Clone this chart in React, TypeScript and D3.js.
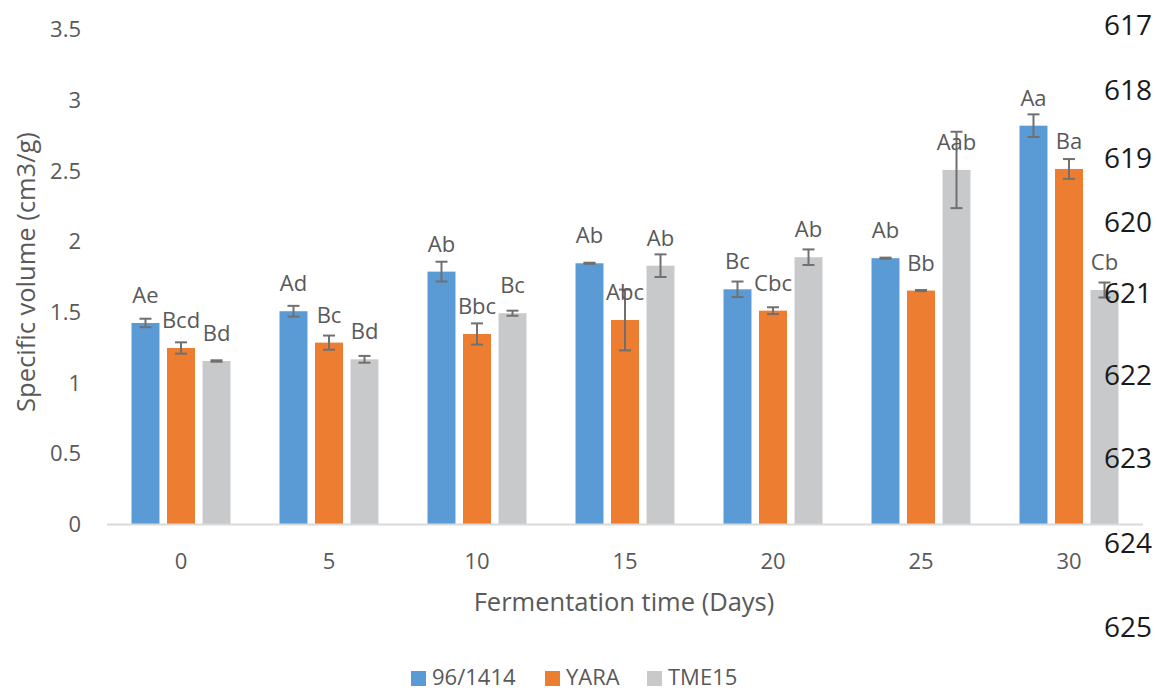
import React from "react";
import * as d3 from "d3";

const days = ["0", "5", "10", "15", "20", "25", "30"];
const seriesNames = ["96/1414", "YARA", "TME15"];
const colors = ["#5B9BD5", "#ED7D31", "#C8C9CB"];

const v96 = [1.425, 1.508, 1.788, 1.847, 1.663, 1.883, 2.82];
const vYARA = [1.248, 1.286, 1.347, 1.446, 1.512, 1.654, 2.514];
const vTME = [1.156, 1.168, 1.494, 1.83, 1.89, 2.507, 1.658];

const e96 = [0.03, 0.038, 0.07, 0.004, 0.055, 0.004, 0.08];
const eYARA = [0.04, 0.05, 0.075, 0.215, 0.024, 0.004, 0.07];
const eTME = [0.005, 0.024, 0.018, 0.08, 0.055, 0.27, 0.053];

const l96 = ["Ae", "Ad", "Ab", "Ab", "Bc", "Ab", "Aa"];
const lYARA = ["Bcd", "Bc", "Bbc", "Abc", "Cbc", "Bb", "Ba"];
const lTME = ["Bd", "Bd", "Bc", "Ab", "Ab", "Aab", "Cb"];

const yTicks = [0, 0.5, 1, 1.5, 2, 2.5, 3, 3.5];
const lineNumbers = ["617", "618", "619", "620", "621", "622", "623", "624", "625"];
const lineNumberY = [25, 90, 158, 222, 293, 375, 458, 543, 627];

const FONT = "'Open Sans', 'Noto Sans', sans-serif";
const GREY = "#595959";

export default function App() {
  const W = 1157, H = 692;
  const left = 107, right = 1143, top = 29.5, bottom = 524.5;

  const x = d3.scaleBand<string>().domain(days).range([left, right]).paddingInner(0).paddingOuter(0);
  const xs = d3.scaleBand<string>().domain(seriesNames).range([-49.5, 49.5]).paddingInner(0.212).paddingOuter(0);
  const y = d3.scaleLinear().domain([0, 3.5]).range([bottom, top]);

  const values = [v96, vYARA, vTME];
  const errs = [e96, eYARA, eTME];
  const labels = [l96, lYARA, lTME];

  const legendItems = [
    { sq: 411, tx: 432 },
    { sq: 545, tx: 566 },
    { sq: 647, tx: 668 },
  ];

  return (
    <svg width={W} height={H} style={{ position: "absolute", left: 0, top: 0, background: "#fff" }}>
      <rect x={0} y={0} width={W} height={H} fill="#fff" />
      {/* y tick labels */}
      {yTicks.map((t) => (
        <text key={t} x={81} y={y(t)} dy="0.35em" textAnchor="end" fontFamily={FONT} fontSize={22} fill={GREY}>
          {t}
        </text>
      ))}
      {/* y axis title */}
      <text
        transform={`translate(26, 272) rotate(-90)`}
        textAnchor="middle"
        dy="0.35em"
        fontFamily={FONT}
        fontSize={25.5}
        fill={GREY}
      >
        Specific volume (cm3/g)
      </text>
      {/* bars */}
      {days.map((d, i) => {
        const cx = (x(d) as number) + x.bandwidth() / 2;
        return (
          <g key={d}>
            {seriesNames.map((s, k) => {
              const bx = cx + (xs(s) as number);
              const bw = xs.bandwidth();
              const v = values[k][i];
              const e = errs[k][i];
              const mid = bx + bw / 2;
              return (
                <g key={s}>
                  <rect x={bx} y={y(v)} width={bw} height={y(0) - y(v)} fill={colors[k]} />
                  <line x1={mid} x2={mid} y1={y(v + e)} y2={y(v - e)} stroke="#707070" strokeWidth={2} />
                  <line x1={mid - 6} x2={mid + 6} y1={y(v + e)} y2={y(v + e)} stroke="#707070" strokeWidth={2} />
                  <line x1={mid - 6} x2={mid + 6} y1={y(v - e)} y2={y(v - e)} stroke="#707070" strokeWidth={2} />
                  <text x={mid} y={y(v) - 20} textAnchor="middle" fontFamily={FONT} fontSize={22} fill={GREY}>
                    {labels[k][i]}
                  </text>
                </g>
              );
            })}
            <text x={cx} y={561} dy="0.35em" textAnchor="middle" fontFamily={FONT} fontSize={22} fill={GREY}>
              {d}
            </text>
          </g>
        );
      })}
      {/* x axis line */}
      <line x1={left} x2={right} y1={bottom} y2={bottom} stroke="#D9D9D9" strokeWidth={2} />
      {/* x axis title */}
      <text x={624} y={602} dy="0.35em" textAnchor="middle" fontFamily={FONT} fontSize={25.5} fill={GREY}>
        Fermentation time (Days)
      </text>
      {/* legend */}
      {seriesNames.map((s, k) => (
        <g key={s}>
          <rect x={legendItems[k].sq} y={671} width={15} height={15} fill={colors[k]} />
          <text x={legendItems[k].tx} y={677} dy="0.35em" fontFamily={FONT} fontSize={22} fill={GREY}>
            {s}
          </text>
        </g>
      ))}
      {/* manuscript line numbers */}
      {lineNumbers.map((n, i) => (
        <text key={n} x={1152} y={lineNumberY[i]} dy="0.35em" textAnchor="end" fontFamily={FONT} fontSize={28} fill="#1a1a1a">
          {n}
        </text>
      ))}
    </svg>
  );
}
